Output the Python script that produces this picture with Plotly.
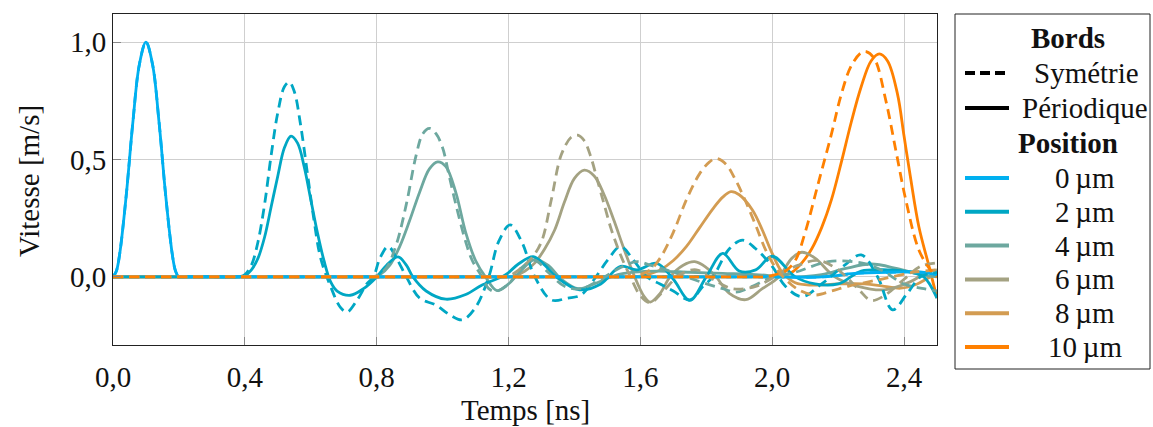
import plotly.graph_objects as go

# ---------------- data ----------------
POSITIONS = ["0", "2", "4", "6", "8", "10"]
COLORS = ["#00B0F0", "#00A7C4", "#6DA89F", "#A4A282", "#D39C52", "#FF8000"]

X_TICKS = [0.0, 0.4, 0.8, 1.2, 1.6, 2.0, 2.4]
X_TICK_TEXT = ["0,0", "0,4", "0,8", "1,2", "1,6", "2,0", "2,4"]
Y_TICKS = [0.0, 0.5, 1.0]
Y_TICK_TEXT = ["0,0", "0,5", "1,0"]

# 0 um (identical for both boundary conditions)
T_0 = [0, 0.01, 0.02, 0.04, 0.06, 0.08, 0.10, 0.12, 0.14, 0.16, 0.18, 0.19, 0.20, 0.22, 0.5, 1.0,
       1.5, 2.0, 2.15, 2.25, 2.35, 2.45, 2.5]
V_0 = [0, 0.024, 0.095, 0.345, 0.655, 0.905, 1.0, 0.905, 0.655, 0.345, 0.095, 0.024, 0, 0, 0, 0,
       0, 0, 0.0, 0.015, 0.02, 0.02, 0.01]

# 2 um
T_2_PER = [0, 0.3, 0.38, 0.40, 0.42, 0.44, 0.46, 0.48, 0.50, 0.52, 0.54, 0.56, 0.58, 0.60, 0.62,
           0.64, 0.66, 0.68, 0.72, 0.76, 0.80, 0.83, 0.865, 0.89, 0.91, 0.95, 1.01, 1.07, 1.12,
           1.19, 1.23, 1.275, 1.31, 1.345, 1.415, 1.48, 1.54, 1.59, 1.65, 1.70, 1.75, 1.80, 1.85,
           1.90, 1.95, 2.0, 2.07, 2.13, 2.2, 2.27, 2.35, 2.42, 2.46, 2.5]
V_2_PER = [0, 0, 0, 0.005, 0.03, 0.08, 0.17, 0.30, 0.43, 0.55, 0.60, 0.57, 0.47, 0.33, 0.19,
           0.07, -0.02, -0.06, -0.078, -0.05, 0.0, 0.05, 0.085, 0.05, 0.0, -0.06, -0.095, -0.075,
           -0.034, 0.008, 0.055, 0.086, 0.05, 0.0, -0.055, -0.03, 0.045, 0.03, 0.058, -0.01, -0.1,
           0.0, 0.1, 0.025, 0.03, 0.088, 0.0, -0.03, -0.03, 0.025, 0.03, 0.02, 0.0, -0.09]

T_2_SYM = [0, 0.3, 0.38, 0.40, 0.42, 0.44, 0.46, 0.48, 0.50, 0.52, 0.535, 0.55, 0.57, 0.59, 0.61,
           0.63, 0.66, 0.69, 0.71, 0.74, 0.77, 0.79, 0.81, 0.835, 0.86, 0.89, 0.93, 0.98, 1.02,
           1.06, 1.10, 1.14, 1.17, 1.205, 1.24, 1.28, 1.33, 1.38, 1.42, 1.46, 1.50, 1.54, 1.58,
           1.62, 1.66, 1.70, 1.75, 1.79, 1.82, 1.87, 1.91, 1.95, 2.0, 2.04, 2.09, 2.15, 2.22, 2.27,
           2.32, 2.365, 2.41, 2.45, 2.5]
V_2_SYM = [0, 0, 0, 0.01, 0.05, 0.15, 0.31, 0.52, 0.70, 0.81, 0.83, 0.79, 0.64, 0.44, 0.24,
           0.08, -0.04, -0.13, -0.15, -0.1, -0.03, 0.0, 0.08, 0.13, 0.08, 0.0, -0.09, -0.12, -0.16,
           -0.183, -0.13, 0.0, 0.15, 0.222, 0.15, 0.0, -0.098, -0.09, -0.077, -0.01, 0.07, 0.13,
           0.07, 0.0, -0.03, -0.06, -0.098, -0.04, 0.0, 0.12, 0.157, 0.12, 0.045, -0.04, -0.084,
           -0.03, 0.05, 0.094, 0.0, -0.14, -0.07, 0.0, 0.02]

# 4 um
T_4_PER = [0, 0.5, 0.77, 0.79, 0.81, 0.84, 0.87, 0.90, 0.93, 0.96, 0.985, 1.01, 1.04, 1.07, 1.10,
           1.13, 1.165, 1.20, 1.24, 1.28, 1.32, 1.36, 1.41, 1.46, 1.52, 1.58, 1.65, 1.75, 1.85,
           1.95, 2.05, 2.15, 2.22, 2.30, 2.38, 2.45, 2.5]
V_4_PER = [0, 0, 0, 0, 0.01, 0.05, 0.13, 0.24, 0.36, 0.46, 0.49, 0.47, 0.36, 0.19, 0.07,
           0.0, -0.058, -0.03, 0.03, 0.075, 0.05, -0.01, -0.05, -0.03, 0.005, 0.02, 0.025, 0.02,
           0.015, 0.01, 0.0, 0.01, 0.035, 0.055, 0.035, 0.01, 0.0]

T_4_SYM = [0, 0.5, 0.76, 0.78, 0.80, 0.83, 0.86, 0.89, 0.92, 0.94, 0.96, 0.98, 1.0, 1.02, 1.04,
           1.07, 1.09, 1.12, 1.14, 1.16, 1.20, 1.24, 1.28, 1.32, 1.37, 1.42, 1.48, 1.54, 1.59,
           1.63, 1.70, 1.78, 1.85, 1.89, 1.94, 2.0, 2.07, 2.17, 2.27, 2.33, 2.40, 2.46, 2.5]
V_4_SYM = [0, 0, 0, 0, 0.005, 0.04, 0.14, 0.31, 0.52, 0.61, 0.633, 0.61, 0.55, 0.43, 0.31,
           0.15, 0.07, 0.0, -0.05, -0.062, -0.03, 0.04, 0.07, 0.02, -0.04, -0.05, -0.01, 0.04,
           0.065, 0.05, 0.02, -0.02, -0.05, -0.065, -0.04, 0.0, 0.02, 0.065, 0.06, 0.03, -0.03,
           -0.05, -0.06]

# 6 um
T_6_PER = [0, 0.8, 1.17, 1.19, 1.22, 1.25, 1.28, 1.31, 1.34, 1.37, 1.40, 1.43, 1.46, 1.49, 1.52,
           1.55, 1.58, 1.61, 1.63, 1.66, 1.69, 1.73, 1.765, 1.80, 1.83, 1.87, 1.92, 1.97, 2.02,
           2.06, 2.09, 2.13, 2.19, 2.26, 2.34, 2.42, 2.47, 2.5]
V_6_PER = [0, 0, 0, 0, 0.005, 0.025, 0.06, 0.12, 0.2, 0.32, 0.42, 0.455, 0.43, 0.35, 0.24,
           0.12, 0.01, -0.08, -0.107, -0.07, 0.0, 0.05, 0.065, 0.04, 0.0, -0.07, -0.097, -0.05,
           0.0, 0.08, 0.105, 0.08, 0.0, -0.04, -0.055, -0.02, 0.02, 0.03]

T_6_SYM = [0, 0.8, 1.16, 1.18, 1.21, 1.24, 1.27, 1.30, 1.33, 1.36, 1.39, 1.41, 1.43, 1.45, 1.47,
           1.49, 1.51, 1.53, 1.55, 1.57, 1.60, 1.63, 1.67, 1.72, 1.77, 1.82, 1.88, 1.95, 2.02,
           2.08, 2.14, 2.2, 2.26, 2.30, 2.34, 2.40, 2.45, 2.5]
V_6_SYM = [0, 0, 0, 0, 0.01, 0.04, 0.08, 0.15, 0.33, 0.52, 0.595, 0.604, 0.58, 0.51, 0.41,
           0.31, 0.21, 0.13, 0.06, 0.0, -0.08, -0.11, -0.06, 0.01, 0.03, -0.01, -0.05, -0.04,
           0.01, 0.05, 0.07, 0.03, -0.05, -0.1, -0.08, -0.01, 0.045, 0.06]

# 8 um
T_8_PER = [0, 1.2, 1.56, 1.58, 1.62, 1.66, 1.70, 1.74, 1.78, 1.82, 1.85, 1.875, 1.90, 1.94, 1.97,
           2.0, 2.03, 2.07, 2.12, 2.2, 2.28, 2.34, 2.39, 2.44, 2.48, 2.5]
V_8_PER = [0, 0, 0, 0, 0.01, 0.03, 0.07, 0.13, 0.21, 0.29, 0.34, 0.363, 0.35, 0.285, 0.2,
           0.1, 0.02, -0.025, -0.035, -0.03, -0.03, -0.04, -0.048, -0.03, 0.0, 0.01]

T_8_SYM = [0, 1.2, 1.54, 1.56, 1.60, 1.63, 1.66, 1.70, 1.74, 1.78, 1.81, 1.83, 1.86, 1.89, 1.92,
           1.95, 1.98, 2.01, 2.04, 2.08, 2.13, 2.18, 2.23, 2.33, 2.43, 2.5]
V_8_SYM = [0, 0, 0, 0, 0.01, 0.03, 0.08, 0.19, 0.33, 0.44, 0.49, 0.505, 0.48, 0.41, 0.32,
           0.22, 0.115, 0.04, -0.01, -0.055, -0.077, -0.06, -0.04, -0.01, 0.02, 0.03]

# 10 um
T_10_PER = [0, 1.5, 1.98, 2.0, 2.03, 2.06, 2.09, 2.12, 2.15, 2.18, 2.21, 2.24, 2.27, 2.30, 2.325,
            2.35, 2.38, 2.40, 2.42, 2.445, 2.476, 2.5]
V_10_PER = [0, 0, 0, 0, 0.005, 0.02, 0.06, 0.12, 0.21, 0.33, 0.49, 0.66, 0.81, 0.92, 0.95,
            0.92, 0.78, 0.6, 0.42, 0.214, 0.044, -0.09]

T_10_SYM = [0, 1.5, 1.96, 1.98, 2.01, 2.04, 2.07, 2.10, 2.14, 2.18, 2.21, 2.24, 2.27, 2.285, 2.31,
            2.345, 2.375, 2.405, 2.445, 2.48, 2.5]
V_10_SYM = [0, 0, 0, 0, 0.01, 0.025, 0.07, 0.19, 0.40, 0.61, 0.78, 0.9, 0.955, 0.96, 0.93,
            0.75, 0.54, 0.33, 0.115, 0.03, 0.0]

PERIODIC = [(T_0, V_0), (T_2_PER, V_2_PER), (T_4_PER, V_4_PER), (T_6_PER, V_6_PER),
            (T_8_PER, V_8_PER), (T_10_PER, V_10_PER)]
SYMMETRIC = [(T_0, V_0), (T_2_SYM, V_2_SYM), (T_4_SYM, V_4_SYM), (T_6_SYM, V_6_SYM),
             (T_8_SYM, V_8_SYM), (T_10_SYM, V_10_SYM)]

X_RANGE = [0, 2.5]
Y_RANGE = [-0.29, 1.12]

# ---------------- layout geometry (pixels) ----------------
W, H = 1153, 427
L, R, T, B = 113, 937, 14, 345
FONT = "Liberation Serif, Times New Roman, serif"
FS = 29
DASH = "10px,6px"
LW = 2.8
TXT = "#111111"


def fx(px):
    return (px - L) / (R - L)


def fy(py):
    return (B - py) / (B - T)


fig = go.Figure()

# periodic (solid) lines, drawn 10 um first so that 0 um lies on top of them
for i in reversed(range(len(POSITIONS))):
    t, v = PERIODIC[i]
    fig.add_trace(go.Scatter(x=t, y=v, mode="lines", showlegend=False, hoverinfo="skip",
                             line=dict(color=COLORS[i], width=LW, shape="spline", smoothing=1.0)))
# symmetric (dashed) lines on top
for i in range(len(POSITIONS)):
    t, v = SYMMETRIC[i]
    fig.add_trace(go.Scatter(x=t, y=v, mode="lines", showlegend=False, hoverinfo="skip",
                             line=dict(color=COLORS[i], width=LW, dash=DASH, shape="spline",
                                       smoothing=1.0)))

axis_common = dict(showgrid=True, gridcolor="#CFCFCF", gridwidth=1, zeroline=False,
                   showline=True, linecolor="#222222", linewidth=1, mirror=True,
                   ticks="inside", ticklen=8, tickcolor="#888888", tickwidth=1,
                   tickfont=dict(family=FONT, size=FS, color=TXT))

fig.update_xaxes(range=X_RANGE, tickvals=X_TICKS, ticktext=X_TICK_TEXT,
                 ticklabelstandoff=6, **axis_common)
fig.update_yaxes(range=Y_RANGE, tickvals=Y_TICKS, ticktext=Y_TICK_TEXT, **axis_common)

shapes = []
annotations = []

# axis titles
annotations.append(dict(x=0.5, y=fy(410), xref="paper", yref="paper", text="Temps [ns]",
                        showarrow=False, xanchor="center", yanchor="middle",
                        font=dict(family=FONT, size=FS, color=TXT)))
annotations.append(dict(x=fx(29), y=fy(181), xref="paper", yref="paper", text="Vitesse [m/s]",
                        showarrow=False, xanchor="center", yanchor="middle", textangle=-90,
                        font=dict(family=FONT, size=FS, color=TXT)))

# legend box
shapes.append(dict(type="rect", xref="paper", yref="paper", x0=fx(955), x1=fx(1150),
                   y0=fy(14), y1=fy(369), line=dict(color="#222222", width=1),
                   fillcolor="white", layer="above"))


def legend_text(text, cx, cy, bold=False):
    annotations.append(dict(x=fx(cx), y=fy(cy), xref="paper", yref="paper",
                            text=("<b>%s</b>" % text) if bold else text, showarrow=False,
                            xanchor="center", yanchor="middle",
                            font=dict(family=FONT, size=FS, color=TXT)))


def legend_line(cy, color, dash="solid", x0=965, x1=1009):
    shapes.append(dict(type="line", xref="paper", yref="paper", x0=fx(x0), x1=fx(x1),
                       y0=fy(cy), y1=fy(cy), line=dict(color=color, width=4, dash=dash),
                       layer="above"))


legend_text("Bords", 1068, 38, bold=True)
legend_line(73, "#000000", dash="10px,5px", x0=965, x1=1005)
legend_text("Symétrie", 1086, 73)
legend_line(108, "#000000")
legend_text("Périodique", 1085, 108)
legend_text("Position", 1068, 143, bold=True)
for k, (pos, col) in enumerate(zip(POSITIONS, COLORS)):
    cy = 178 + 33.8 * k
    legend_line(cy, col)
    legend_text(pos + "\u2009µm", 1085, cy)

fig.update_layout(width=W, height=H, margin=dict(l=L, r=W - R, t=T, b=H - B),
                  paper_bgcolor="white", plot_bgcolor="white", showlegend=False,
                  shapes=shapes, annotations=annotations,
                  font=dict(family=FONT, size=FS, color=TXT))

fig.write_html("out.html", config={"displayModeBar": False},
               post_script="document.body.style.margin='0';document.body.style.padding='0';")
